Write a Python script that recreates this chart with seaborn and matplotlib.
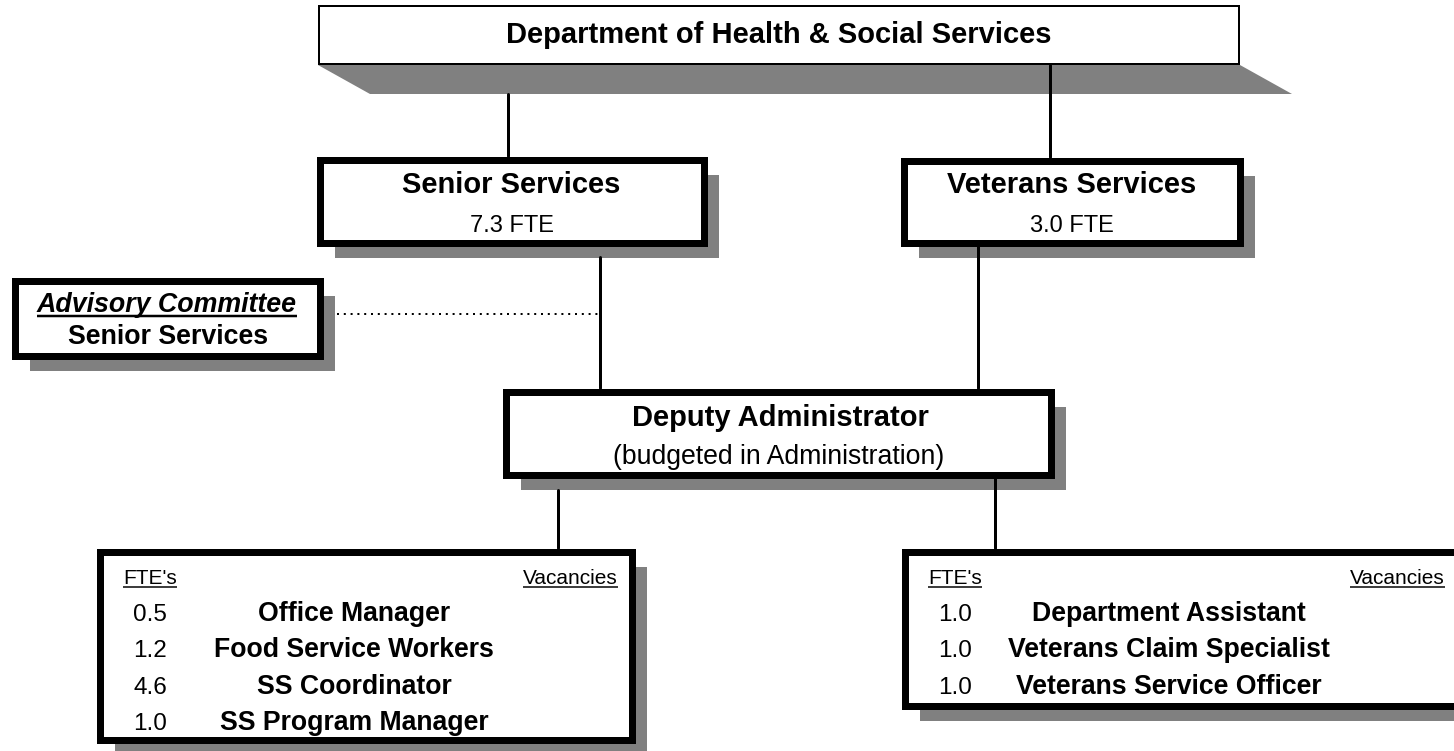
import matplotlib
matplotlib.use("Agg")
import matplotlib.pyplot as plt
from matplotlib.patches import Rectangle, Polygon
import seaborn as sns
import pandas as pd

# chart content
dept_name = "Department of Health & Social Services"
division_names = ["Senior Services", "Veterans Services"]
division_fte = [7.3, 3.0]
deputy_name = "Deputy Administrator"
deputy_note = "(budgeted in Administration)"
advisory_lines = ["Advisory Committee", "Senior Services"]
column_heads = ["FTE's", "Vacancies"]
senior_positions = ["Office Manager", "Food Service Workers", "SS Coordinator", "SS Program Manager"]
senior_fte = [0.5, 1.2, 4.6, 1.0]
veteran_positions = ["Department Assistant", "Veterans Claim Specialist", "Veterans Service Officer"]
veteran_fte = [1.0, 1.0, 1.0]

# layout (pixel space of the 1454x751 canvas)
W, H = 1454, 751
SHADOW = "#808080"
PX = 0.72  # points per pixel at dpi 100

sns.set_theme(style="white")
plt.rcParams["font.family"] = ["Liberation Sans", "DejaVu Sans"]

fig = plt.figure(figsize=(W / 100, H / 100), dpi=100)
ax = fig.add_axes([0, 0, 1, 1])


def box(x0, y0, x1, y1, border=7):
    ax.add_patch(Rectangle((x0 + 19, y0 + 19), (x1 + 12) - (x0 + 19), (y1 + 12) - (y0 + 19),
                           facecolor=SHADOW, edgecolor="none", zorder=1))
    h = border / 2
    ax.add_patch(Rectangle((x0 + h, y0 + h), x1 - x0 - border, y1 - y0 - border,
                           facecolor="white", edgecolor="black", lw=border * PX, zorder=2))


def label(x, y, s, size, weight="normal", style="normal", ha="center"):
    return ax.text(x, y, s, fontsize=size, fontweight=weight, fontstyle=style,
                   ha=ha, va="baseline", color="black", zorder=4)


def underline(t, y, lw_px):
    renderer = fig.canvas.get_renderer()
    bb = t.get_window_extent(renderer).transformed(ax.transData.inverted())
    x0, x1 = sorted([bb.x0, bb.x1])
    ax.plot([x0, x1], [y, y], color="black", lw=lw_px * PX, solid_capstyle="butt", zorder=4)


# connectors
conn = pd.DataFrame({
    "seg": [0, 0, 1, 1, 2, 2, 3, 3, 4, 4, 5, 5],
    "x": [508, 508, 1050, 1050, 600, 600, 978, 978, 558, 558, 995, 995],
    "y": [94, 156, 65, 157, 257, 388, 246, 388, 490, 548, 478, 548],
})
sns.lineplot(data=conn, x="x", y="y", units="seg", estimator=None, sort=False,
             color="black", lw=3 * PX, ax=ax, legend=False, zorder=3)
ax.plot([337, 598], [314, 314], color="black", lw=2 * PX, ls=(0, (1, 2.4)), zorder=3)

ax.set_xlim(0, W)
ax.set_ylim(H, 0)
ax.axis("off")

# top box with slanted shadow
ax.add_patch(Polygon([(318, 65), (1240, 65), (1292, 94), (370, 94)], closed=True,
                     facecolor=SHADOW, edgecolor="none", zorder=1))
ax.add_patch(Rectangle((319, 6), 920, 58, facecolor="white", edgecolor="black", lw=2 * PX, zorder=2))
label(779, 43, dept_name, 21, weight="bold")

# division boxes
div_boxes = [(316, 156, 707, 246), (900, 157, 1243, 246)]
for (x0, y0, x1, y1), name, fte in zip(div_boxes, division_names, division_fte):
    box(x0, y0, x1, y1)
    cx = (x0 + x1) / 2
    label(cx, 193, name, 21, weight="bold")
    label(cx, 232, f"{fte:.1f} FTE", 17)

# advisory committee
box(11, 277, 323, 359)
t = label(167, 312, advisory_lines[0], 19.3, weight="bold", style="italic")
underline(t, 316, 2.5)
label(168, 344, advisory_lines[1], 19.3, weight="bold")

# deputy administrator
box(502, 388, 1054, 478)
label(780, 426, deputy_name, 21, weight="bold")
label(779, 464, deputy_note, 19.2)

# staff boxes
staff = [
    ((96, 548, 635, 743), senior_positions, senior_fte, 150, 354),
    ((901, 548, 1462, 709), veteran_positions, veteran_fte, 955, 1169),
]
for (x0, y0, x1, y1), positions, ftes, num_x, title_x in staff:
    box(x0, y0, x1, y1)
    t = label(x0 + 27, 584, column_heads[0], 15, ha="left")
    underline(t, 587, 1.5)
    t = label(x1 - 17, 584, column_heads[1], 15, ha="right")
    underline(t, 587, 1.5)
    for i, (pos, fte) in enumerate(zip(positions, ftes)):
        yb = 621 + i * 36.3
        label(num_x, yb, f"{fte:.1f}", 17.5)
        label(title_x, yb, pos, 19.2, weight="bold")

fig.savefig("out.png", dpi=100, facecolor="white")
